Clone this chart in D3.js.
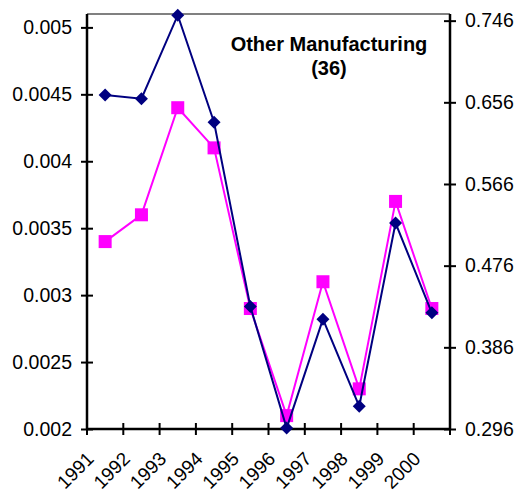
<!DOCTYPE html>
<html>
<head>
<meta charset="utf-8">
<script src="https://cdn.jsdelivr.net/npm/d3@7"></script>
<style>
  html, body { margin: 0; padding: 0; background: #fff; }
  svg { display: block; font-family: "Liberation Sans", Arial, sans-serif; }
</style>
</head>
<body>
<svg id="chart" width="520" height="493"></svg>
<script>
const years = ["1991","1992","1993","1994","1995","1996","1997","1998","1999","2000"];
const pinkValues = [0.0034, 0.0036, 0.0044, 0.0041, 0.0029, 0.0021, 0.0031, 0.0023, 0.0037, 0.0029];
const blueValues = [0.664, 0.660, 0.752, 0.634, 0.431, 0.297, 0.417, 0.321, 0.523, 0.424];
const leftTicks = [0.002, 0.0025, 0.003, 0.0035, 0.004, 0.0045, 0.005];
const rightTicks = [0.296, 0.386, 0.476, 0.566, 0.656, 0.746];
const titleLines = ["Other Manufacturing", "(36)"];

const svg = d3.select("#chart");
const L = 87, R = 450, T = 14, B = 429;

const x = d3.scaleBand().domain(years).range([L, R]).padding(0);
const yL = d3.scaleLinear().domain([0.002, 0.0051]).range([B, T]);
const yR = d3.scaleLinear().domain([0.296, 0.296 + 0.09 * 415 / 81.67]).range([B, T]);

// top border
svg.append("line").attr("x1", L).attr("x2", R).attr("y1", T).attr("y2", T)
  .attr("stroke", "#808080").attr("stroke-width", 2);

// left axis
const gl = svg.append("g").attr("transform", `translate(${L},0)`)
  .call(d3.axisLeft(yL).tickValues(leftTicks).tickSize(6).tickPadding(9)
    .tickFormat(d => String(+d.toFixed(4))));
gl.select(".domain").attr("d", `M0,${T}V${B}`).attr("stroke", "#000").attr("stroke-width", 2.5);
gl.selectAll(".tick line").attr("x1", -6).attr("x2", 6).attr("stroke", "#000").attr("stroke-width", 2);
gl.selectAll(".tick text").attr("font-size", 19.5).attr("fill", "#000")
  .attr("font-family", "'Liberation Sans', Arial, sans-serif");

// right axis
const gr = svg.append("g").attr("transform", `translate(${R},0)`)
  .call(d3.axisRight(yR).tickValues(rightTicks).tickSize(6).tickPadding(9)
    .tickFormat(d3.format(".3f")));
gr.select(".domain").attr("d", `M0,${T}V${B}`).attr("stroke", "#000").attr("stroke-width", 2.5);
gr.selectAll(".tick line").attr("x1", -6).attr("x2", 6).attr("stroke", "#000").attr("stroke-width", 2);
gr.selectAll(".tick text").attr("font-size", 19.5).attr("fill", "#000")
  .attr("font-family", "'Liberation Sans', Arial, sans-serif");

// bottom axis
const gb = svg.append("g");
gb.append("line").attr("x1", L).attr("x2", R).attr("y1", B).attr("y2", B)
  .attr("stroke", "#000").attr("stroke-width", 2.5);
const bounds = years.map(y => x(y)).concat([R]);
gb.selectAll("line.tk").data(bounds).enter().append("line").attr("class", "tk")
  .attr("x1", d => d).attr("x2", d => d).attr("y1", B - 6).attr("y2", B + 6)
  .attr("stroke", "#000").attr("stroke-width", 2);
gb.selectAll("text").data(years).enter().append("text")
  .attr("transform", d => `translate(${x(d) + 8},${B + 31}) rotate(-45)`)
  .attr("text-anchor", "end")
  .attr("font-size", 19)
  .text(d => d);

// pink series (left axis)
const cx = d => x(d) + x.bandwidth() / 2;
svg.append("path").datum(years)
  .attr("fill", "none").attr("stroke", "#FF00FF").attr("stroke-width", 2)
  .attr("d", d3.line().x(d => cx(d)).y((d, i) => yL(pinkValues[i])));
svg.selectAll("rect.pk").data(years).enter().append("rect").attr("class", "pk")
  .attr("x", d => cx(d) - 6.5).attr("y", (d, i) => yL(pinkValues[i]) - 6.5)
  .attr("width", 13).attr("height", 13).attr("fill", "#FF00FF");

// blue series (right axis)
svg.append("path").datum(years)
  .attr("fill", "none").attr("stroke", "#000080").attr("stroke-width", 2)
  .attr("d", d3.line().x(d => cx(d)).y((d, i) => yR(blueValues[i])));
svg.selectAll("path.bl").data(years).enter().append("path").attr("class", "bl")
  .attr("transform", (d, i) => `translate(${cx(d)},${yR(blueValues[i])})`)
  .attr("d", "M0,-6.5L6.5,0L0,6.5L-6.5,0Z")
  .attr("fill", "#000080");

// title
svg.append("text").attr("x", 329).attr("y", 51).attr("text-anchor", "middle")
  .attr("font-size", 20).attr("font-weight", "bold").text(titleLines[0]);
svg.append("text").attr("x", 329).attr("y", 75).attr("text-anchor", "middle")
  .attr("font-size", 20).attr("font-weight", "bold").text(titleLines[1]);
</script>
</body>
</html>
